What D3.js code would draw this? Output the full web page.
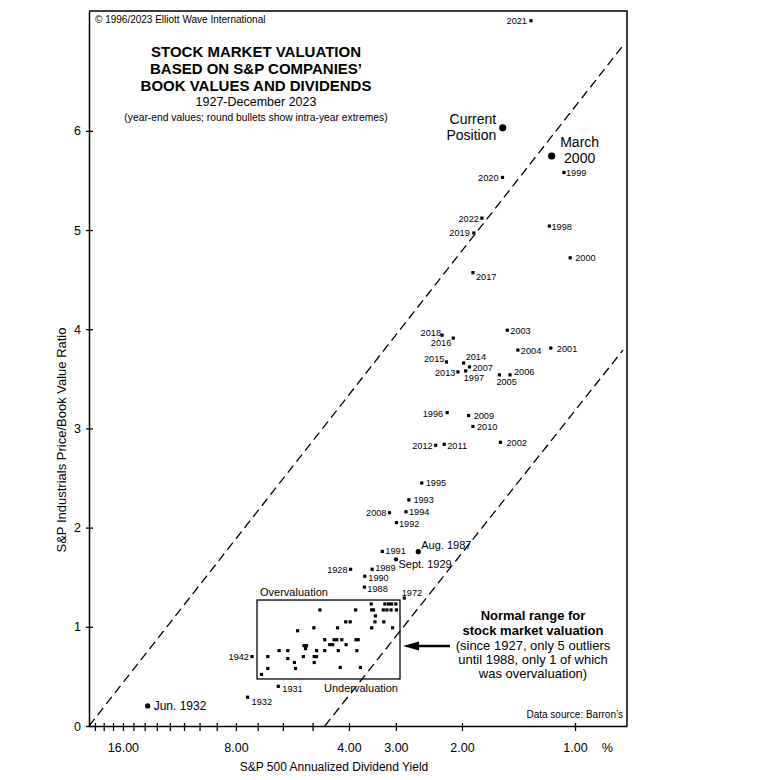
<!DOCTYPE html>
<html>
<head>
<meta charset="utf-8">
<script src="https://cdn.jsdelivr.net/npm/d3@7"></script>
<style>
  body { margin: 0; background: #fff; }
  svg text { font-family: "Liberation Sans", Arial, sans-serif; fill: #000; }
</style>
</head>
<body>
<div id="chart"></div>
<script>
// year-end values (dividend yield %, price/book ratio)
var yearLabels = ["1928","1931","1932","1942","1972","1988","1989","1990","1991","1992",
  "1993","1994","1995","1996","1997","1998","1999","2000","2001","2002",
  "2003","2004","2005","2006","2007","2008","2009","2010","2011","2012",
  "2013","2014","2015","2016","2017","2018","2019","2020","2021","2022"];
var yearYield = [3.96,6.17,7.45,7.25,2.85,3.64,3.47,3.63,3.26,2.99,
  2.77,2.82,2.56,2.19,1.955,1.17,1.07,1.03,1.16,1.58,
  1.515,1.42,1.59,1.49,1.91,3.12,1.92,1.87,2.23,2.35,
  2.05,1.98,2.20,2.11,1.87,2.26,1.86,1.56,1.31,1.77];
var yearPbv = [1.58,0.40,0.29,0.70,1.29,1.40,1.58,1.51,1.76,2.05,
  2.28,2.16,2.45,3.16,3.58,5.04,5.58,4.72,3.81,2.86,
  3.99,3.79,3.54,3.54,3.62,2.15,3.13,3.02,2.84,2.83,
  3.57,3.66,3.67,3.91,4.57,3.94,4.97,5.53,7.11,5.12];

// unlabelled years inside the normal range box
var boxYield = [6.84,6.58,6.58,6.14,5.82,5.82,5.59,5.55,5.48,5.29,5.27,5.19,5.22,4.96,4.95,4.95,4.88,4.88,
  4.78,4.64,4.64,4.50,4.42,4.38,4.31,4.18,4.29,4.27,4.22,4.08,3.97,4.07,3.84,3.83,3.78,3.81,3.73,
  3.49,3.48,3.44,3.40,3.41,3.23,3.48,3.06,3.21,3.14,3.08,3.00,3.24,3.17,3.09,2.99];
var boxPbv = [0.52,0.58,0.70,0.76,0.76,0.68,0.64,0.58,0.96,0.70,0.81,0.81,0.78,0.99,0.64,0.70,0.70,0.76,
  1.17,0.76,0.87,0.82,0.82,0.87,0.87,0.87,0.99,0.76,0.59,1.05,1.05,0.82,1.17,0.87,0.87,0.76,0.59,
  1.23,1.17,1.17,1.11,1.05,1.05,0.99,0.99,1.23,1.23,1.23,1.23,1.17,1.17,1.17,1.17];

// intra-year extremes (round bullets)
var extremeLabels = ["Current Position","March 2000","Aug. 1987","Sept. 1929","Jun. 1932"];
var extremeYield = [1.558,1.154,2.615,2.998,13.75];
var extremePbv = [6.03,5.746,1.757,1.680,0.202];

// dashed channel lines
var upperLineYield = [19.7,0.736];
var upperLinePbv = [0,6.885];
var lowerLineYield = [4.64,0.745];
var lowerLinePbv = [0,3.79];

// normal range box
var rangeYield = [7.03,2.925];
var rangePbv = [0.474,1.27];

var xTickValues = [19,18,17,16,15,14,13,12,11,10,9,8,7,6,5,4,3,2,1];
var xTickLabels = [16,8,4,3,2,1];
var yTickValues = [0,1,2,3,4,5,6];

// label placement: [anchor, dx, dy]
var labelPos = {
  "1928":["end",-3,3.5], "1931":["start",4,5.5], "1932":["start",4,8], "1942":["end",-3,3.5],
  "1972":["start",-2.5,-2], "1988":["start",3,4.5], "1989":["start",3,1.5], "1990":["start",3.5,5],
  "1991":["start",3,3], "1992":["start",2.5,4], "1993":["start",4.5,3], "1994":["start",3,3.5],
  "1995":["start",4,3.5], "1996":["end",-4,4.5], "1997":["start",-2,10], "1998":["start",2,3.5],
  "1999":["start",2,3.5], "2000":["start",5,3.5], "2001":["start",6,3.5], "2002":["start",6,3.5],
  "2003":["start",3,3.5], "2004":["start",3,3.5], "2005":["start",-3,10], "2006":["start",4,0],
  "2007":["start",3,4.5], "2008":["end",-3,3.5], "2009":["start",5,3.5], "2010":["start",4,3.5],
  "2011":["start",3,4.5], "2012":["end",-3,3.5], "2013":["end",-2.5,4.5], "2014":["start",2,-2.5],
  "2015":["end",-2,0], "2016":["end",-2,8], "2017":["start",3,7], "2018":["end",-1,1],
  "2019":["end",-4,3.5], "2020":["end",-4,3.5], "2021":["end",-4,3.5], "2022":["end",-3,3.5]
};

var svgWidth = 779;
var svgHeight = 780;
var margin = { top: 11, right: 152, bottom: 54, left: 89 };
var width = svgWidth - margin.left - margin.right;
var height = svgHeight - margin.top - margin.bottom;

var svg = d3.select("#chart")
  .append("svg")
  .attr("width", svgWidth)
  .attr("height", svgHeight);

var chartGroup = svg.append("g")
  .attr("transform", `translate(${margin.left}, ${margin.top})`);

var xScale = d3.scaleLog()
  .domain([19.7, 0.727])
  .range([0, width]);

var yScale = d3.scaleLinear()
  .domain([0, 7.208])
  .range([height, 0]);

// frame top and right
chartGroup.append("path")
  .attr("d", `M0,0H${width}V${height}`)
  .attr("fill", "none")
  .attr("stroke", "#000")
  .attr("stroke-width", 1.5);

// axes
var bottomAxis = d3.axisBottom(xScale)
  .tickValues(xTickValues)
  .tickSize(5)
  .tickSizeOuter(0)
  .tickFormat(d => xTickLabels.indexOf(d) >= 0 ? d.toFixed(2) : "");

var xAxis = chartGroup.append("g")
  .attr("transform", `translate(0, ${height})`)
  .call(bottomAxis);
xAxis.selectAll(".tick line").attr("y1", -3).attr("stroke-width", 1.3);
xAxis.selectAll(".tick text")
  .attr("y", 26).attr("dy", 0)
  .style("font-size", "12.5px")
  .style("font-family", "'Liberation Sans', Arial, sans-serif");
xAxis.select(".domain").attr("stroke-width", 1.5);

var leftAxis = d3.axisLeft(yScale)
  .tickValues(yTickValues)
  .tickSize(3)
  .tickSizeOuter(0)
  .tickPadding(5)
  .tickFormat(d3.format("d"));

var yAxis = chartGroup.append("g")
  .call(leftAxis);
yAxis.selectAll(".tick line").attr("x1", 4).attr("stroke-width", 1.3);
yAxis.selectAll(".tick text")
  .style("font-size", "12.5px")
  .style("font-family", "'Liberation Sans', Arial, sans-serif");
yAxis.select(".domain").attr("stroke-width", 1.5);

chartGroup.append("text")
  .attr("x", xScale(0.82))
  .attr("y", height + 26)
  .attr("text-anchor", "middle")
  .style("font-size", "12.5px")
  .text("%");

// axis titles
chartGroup.append("text")
  .attr("x", 334 - margin.left)
  .attr("y", height + 45)
  .attr("text-anchor", "middle")
  .style("font-size", "12px")
  .text("S&P 500 Annualized Dividend Yield");

chartGroup.append("text")
  .attr("transform", "rotate(-90)")
  .attr("x", -(440 - margin.top))
  .attr("y", -23)
  .attr("text-anchor", "middle")
  .style("font-size", "13px")
  .text("S&P Industrials Price/Book Value Ratio");

// dashed channel lines
var line = d3.line()
  .x(d => xScale(d[0]))
  .y(d => yScale(d[1]));

[[upperLineYield, upperLinePbv], [lowerLineYield, lowerLinePbv]].forEach(function(pair) {
  chartGroup.append("path")
    .datum(d3.zip(pair[0], pair[1]))
    .attr("d", line)
    .attr("fill", "none")
    .attr("stroke", "#000")
    .attr("stroke-width", 1.3)
    .attr("stroke-dasharray", "9,5");
});

// normal range box
var bx0 = xScale(rangeYield[0]), bx1 = xScale(rangeYield[1]);
var by0 = yScale(rangePbv[1]), by1 = yScale(rangePbv[0]);
chartGroup.append("rect")
  .attr("x", bx0)
  .attr("y", by0)
  .attr("width", bx1 - bx0)
  .attr("height", by1 - by0)
  .attr("fill", "none")
  .attr("stroke", "#000")
  .attr("stroke-width", 1.3);

chartGroup.append("text")
  .attr("x", bx0 + 3)
  .attr("y", by0 - 4)
  .style("font-size", "11px")
  .text("Overvaluation");

chartGroup.append("text")
  .attr("x", bx1 - 2)
  .attr("y", by1 + 13)
  .attr("text-anchor", "end")
  .style("font-size", "11px")
  .text("Undervaluation");

// box points
var sq = 3.2;
chartGroup.append("g")
  .selectAll("rect")
  .data(d3.zip(boxYield, boxPbv))
  .join("rect")
  .attr("x", d => xScale(d[0]) - sq / 2)
  .attr("y", d => yScale(d[1]) - sq / 2)
  .attr("width", sq)
  .attr("height", sq)
  .attr("fill", "#000");

// labelled year-end points
var yearData = yearLabels.map((l, i) => ({ label: l, x: yearYield[i], y: yearPbv[i] }));

chartGroup.append("g")
  .selectAll("rect")
  .data(yearData)
  .join("rect")
  .attr("x", d => xScale(d.x) - sq / 2)
  .attr("y", d => yScale(d.y) - sq / 2)
  .attr("width", sq)
  .attr("height", sq)
  .attr("fill", "#000");

chartGroup.append("g")
  .selectAll("text")
  .data(yearData)
  .join("text")
  .attr("x", d => xScale(d.x) + labelPos[d.label][1])
  .attr("y", d => yScale(d.y) + labelPos[d.label][2])
  .attr("text-anchor", d => labelPos[d.label][0])
  .style("font-size", "9.2px")
  .text(d => d.label);

// round bullets for intra-year extremes
var extremeStyle = {
  "Current Position": { r: 3.6, size: 14, lines: [["Current", -6.5, -3.7, "end"], ["Position", -6.5, 12.3, "end"]] },
  "March 2000": { r: 3.6, size: 14, lines: [["March", 28, -9, "middle"], ["2000", 28, 7, "middle"]] },
  "Aug. 1987": { r: 2.6, size: 11, lines: [["Aug. 1987", 3, -3, "start"]] },
  "Sept. 1929": { r: 2.2, size: 11, lines: [["Sept. 1929", 2.5, 8.5, "start"]] },
  "Jun. 1932": { r: 2.6, size: 12, lines: [["Jun. 1932", 6, 4, "start"]] }
};

extremeLabels.forEach(function(name, i) {
  var cx = xScale(extremeYield[i]);
  var cy = yScale(extremePbv[i]);
  var st = extremeStyle[name];
  chartGroup.append("circle")
    .attr("cx", cx)
    .attr("cy", cy)
    .attr("r", st.r)
    .attr("fill", "#000");
  st.lines.forEach(function(ln) {
    chartGroup.append("text")
      .attr("x", cx + ln[1])
      .attr("y", cy + ln[2])
      .attr("text-anchor", ln[3])
      .style("font-size", st.size + "px")
      .text(ln[0]);
  });
});

// arrow pointing at the box
var arrowY = yScale(0.806);
chartGroup.append("path")
  .attr("d", `M${bx1 + 17},${arrowY}H${bx1 + 50}`)
  .attr("stroke", "#000")
  .attr("stroke-width", 2.5);
chartGroup.append("path")
  .attr("d", `M${bx1 + 3},${arrowY}L${bx1 + 19},${arrowY - 4.5}L${bx1 + 19},${arrowY + 4.5}Z`)
  .attr("fill", "#000");

// annotation block
var noteX = 533 - margin.left;
var noteLines = [
  ["Normal range for", 620, true],
  ["stock market valuation", 635, true],
  ["(since 1927, only 5 outliers", 649.5, false],
  ["until 1988, only 1 of which", 663.5, false],
  ["was overvaluation)", 677.5, false]
];
noteLines.forEach(function(n) {
  chartGroup.append("text")
    .attr("x", noteX)
    .attr("y", n[1] - margin.top)
    .attr("text-anchor", "middle")
    .style("font-size", "13px")
    .style("font-weight", n[2] ? "bold" : "normal")
    .text(n[0]);
});

chartGroup.append("text")
  .attr("x", width - 4)
  .attr("y", height - 8)
  .attr("text-anchor", "end")
  .style("font-size", "10px")
  .text("Data source: Barron\u2019s");

// header texts
chartGroup.append("text")
  .attr("x", 6)
  .attr("y", 12)
  .style("font-size", "10px")
  .text("\u00a9 1996/2023 Elliott Wave International");

var titleX = 256 - margin.left;
["STOCK MARKET VALUATION", "BASED ON S&P COMPANIES\u2019", "BOOK VALUES AND DIVIDENDS"].forEach(function(t, i) {
  chartGroup.append("text")
    .attr("x", titleX)
    .attr("y", 46 + i * 17)
    .attr("text-anchor", "middle")
    .style("font-size", "15px")
    .style("font-weight", "bold")
    .text(t);
});

chartGroup.append("text")
  .attr("x", titleX)
  .attr("y", 95)
  .attr("text-anchor", "middle")
  .style("font-size", "12.5px")
  .text("1927-December 2023");

chartGroup.append("text")
  .attr("x", titleX)
  .attr("y", 110)
  .attr("text-anchor", "middle")
  .style("font-size", "10.3px")
  .text("(year-end values; round bullets show intra-year extremes)");
</script>
</body>
</html>
